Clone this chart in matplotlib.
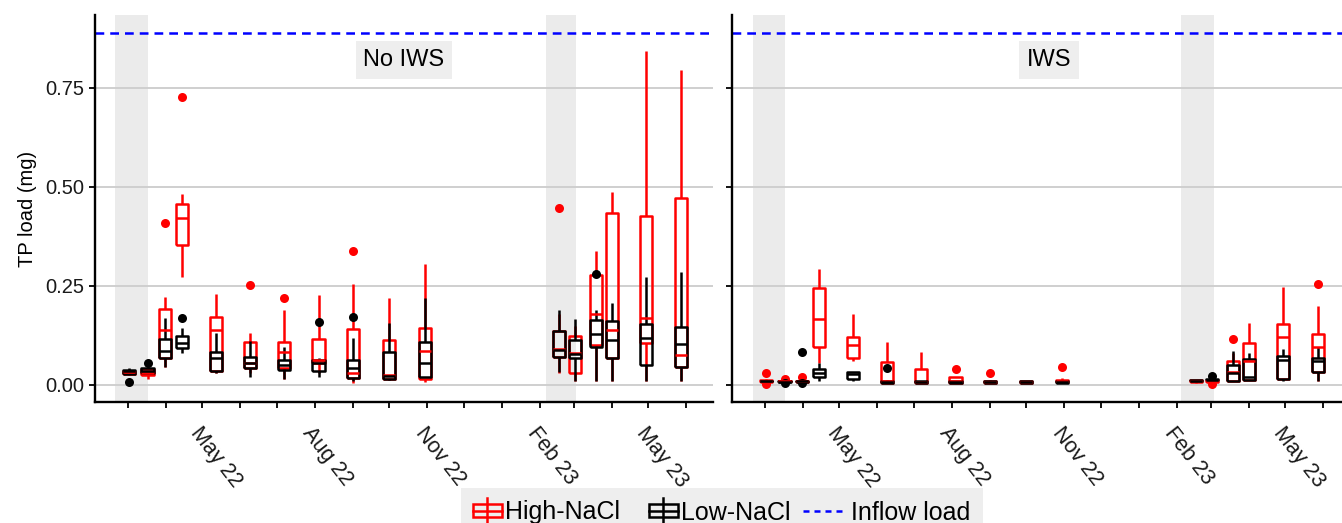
import matplotlib
matplotlib.use("Agg")
import matplotlib.pyplot as plt
import matplotlib.dates as mdates
from matplotlib.legend_handler import HandlerBase
from matplotlib.patches import Rectangle, Patch
from matplotlib.lines import Line2D
import pandas as pd

plt.rcParams['font.family'] = ['Liberation Sans', 'DejaVu Sans']

# sampling dates (shared by both panels)
dates = ["2022-03-02", "2022-03-17", "2022-03-31", "2022-04-14", "2022-05-12", "2022-06-09",
         "2022-07-07", "2022-08-04", "2022-09-01", "2022-10-01", "2022-10-30",
         "2023-02-17", "2023-03-02", "2023-03-19", "2023-04-01", "2023-04-29", "2023-05-28"]

# box stats: (whisker low, q1, median, q3, whisker high, outliers)
noiws_high = [
    (0.025, 0.028, 0.032, 0.036, 0.040, []),
    (0.014, 0.025, 0.030, 0.040, 0.042, []),
    (0.045, 0.067, 0.139, 0.191, 0.223, [0.409]),
    (0.272, 0.353, 0.422, 0.457, 0.482, [0.726]),
    (0.029, 0.036, 0.139, 0.172, 0.230, []),
    (0.030, 0.042, 0.055, 0.109, 0.130, [0.252]),
    (0.014, 0.042, 0.084, 0.109, 0.188, [0.219]),
    (0.030, 0.056, 0.063, 0.116, 0.227, []),
    (0.004, 0.017, 0.031, 0.141, 0.255, [0.338]),
    (0.013, 0.016, 0.024, 0.114, 0.219, []),
    (0.008, 0.014, 0.086, 0.145, 0.305, []),
    (0.030, 0.070, 0.090, 0.136, 0.180, [0.448]),
    (0.010, 0.029, 0.080, 0.124, 0.150, []),
    (0.010, 0.101, 0.180, 0.278, 0.339, []),
    (0.010, 0.067, 0.139, 0.433, 0.487, []),
    (0.010, 0.105, 0.168, 0.427, 0.844, []),
    (0.010, 0.046, 0.076, 0.473, 0.794, []),
]
noiws_low = [
    (0.028, 0.028, 0.034, 0.038, 0.042, [0.008]),
    (0.030, 0.030, 0.035, 0.042, 0.045, [0.055]),
    (0.045, 0.067, 0.087, 0.115, 0.168, []),
    (0.080, 0.093, 0.105, 0.124, 0.143, [0.170]),
    (0.030, 0.036, 0.067, 0.084, 0.132, []),
    (0.021, 0.042, 0.056, 0.071, 0.112, []),
    (0.014, 0.038, 0.050, 0.063, 0.097, []),
    (0.021, 0.035, 0.056, 0.063, 0.068, [0.160]),
    (0.010, 0.018, 0.042, 0.063, 0.118, [0.172]),
    (0.013, 0.016, 0.022, 0.084, 0.157, []),
    (0.021, 0.021, 0.056, 0.109, 0.220, []),
    (0.032, 0.070, 0.088, 0.136, 0.188, []),
    (0.010, 0.069, 0.078, 0.114, 0.166, []),
    (0.010, 0.097, 0.128, 0.164, 0.189, [0.280]),
    (0.009, 0.067, 0.114, 0.162, 0.206, []),
    (0.010, 0.050, 0.118, 0.154, 0.272, []),
    (0.010, 0.046, 0.103, 0.146, 0.286, []),
]
iws_high = [
    (0.006, 0.008, 0.010, 0.012, 0.015, [0.031, 0.002]),
    (0.008, 0.009, 0.010, 0.011, 0.012, [0.014]),
    (0.006, 0.008, 0.009, 0.011, 0.012, [0.021]),
    (0.055, 0.097, 0.166, 0.245, 0.293, []),
    (0.060, 0.067, 0.100, 0.122, 0.180, []),
    (0.004, 0.005, 0.010, 0.059, 0.109, []),
    (0.005, 0.005, 0.008, 0.040, 0.083, []),
    (0.005, 0.005, 0.010, 0.021, 0.021, [0.040]),
    (0.004, 0.005, 0.007, 0.010, 0.012, [0.030]),
    (0.004, 0.005, 0.007, 0.009, 0.010, []),
    (0.006, 0.008, 0.010, 0.013, 0.017, [0.046]),
    (0.006, 0.008, 0.010, 0.012, 0.013, []),
    (0.006, 0.008, 0.010, 0.012, 0.013, [0.003]),
    (0.010, 0.010, 0.032, 0.060, 0.080, [0.115]),
    (0.012, 0.012, 0.060, 0.107, 0.157, []),
    (0.015, 0.015, 0.120, 0.154, 0.248, []),
    (0.010, 0.032, 0.097, 0.128, 0.200, [0.255]),
]
iws_low = [
    (0.008, 0.009, 0.010, 0.011, 0.012, []),
    (0.006, 0.007, 0.008, 0.009, 0.010, [0.004]),
    (0.007, 0.008, 0.009, 0.011, 0.012, [0.083, 0.004]),
    (0.009, 0.021, 0.030, 0.040, 0.055, []),
    (0.009, 0.014, 0.027, 0.032, 0.032, []),
    (0.004, 0.005, 0.007, 0.010, 0.012, [0.044]),
    (0.004, 0.005, 0.007, 0.009, 0.010, []),
    (0.004, 0.005, 0.007, 0.009, 0.010, []),
    (0.004, 0.005, 0.007, 0.009, 0.010, []),
    (0.004, 0.005, 0.007, 0.009, 0.010, []),
    (0.004, 0.005, 0.007, 0.009, 0.010, []),
    (0.008, 0.009, 0.011, 0.012, 0.013, []),
    (0.010, 0.012, 0.013, 0.015, 0.016, [0.022]),
    (0.010, 0.010, 0.030, 0.050, 0.085, []),
    (0.012, 0.012, 0.019, 0.065, 0.081, []),
    (0.010, 0.015, 0.063, 0.073, 0.092, []),
    (0.010, 0.032, 0.061, 0.068, 0.097, []),
]

inflow_load = 0.889
shade_noiws = [("2022-02-18", "2022-03-17"), ("2023-02-06", "2023-03-03")]
shade_iws = [("2022-02-19", "2022-03-17"), ("2023-02-05", "2023-03-04")]
panel_titles = ["No IWS", "IWS"]

RED = "#FF0000"
BLUE = "#0000FF"
GRID = "#CCCCCC"
SHADE = "#EBEBEB"
LW = 1.8
pos = mdates.date2num(pd.to_datetime(dates))


def draw_group(ax, stats, color):
    st = [dict(whislo=s[0], q1=s[1], med=s[2], q3=s[3], whishi=s[4], fliers=s[5]) for s in stats]
    lp = dict(color=color, lw=LW, solid_capstyle='butt')
    ax.bxp(st, positions=pos, widths=10, showcaps=False, manage_ticks=False,
           boxprops=lp, whiskerprops=lp, medianprops=lp,
           flierprops=dict(marker='o', markerfacecolor=color, markeredgecolor='none', markersize=6.5))


def month_fmt(x, p):
    d = mdates.num2date(x)
    return d.strftime("%b %y") if d.month in (2, 5, 8, 11) else ""


class BoxHandler(HandlerBase):
    # small boxplot glyph, right-aligned in the key
    def create_artists(self, legend, orig, xd, yd, w, h, fs, trans):
        c = orig.get_edgecolor()
        bw = 21
        cx = xd + w - bw / 2 - 1
        box = Rectangle((cx - bw / 2, yd + h * 0.12), bw, h * 0.76, fill=False, ec=c, lw=LW, transform=trans)
        med = Line2D([cx - bw / 2, cx + bw / 2], [yd + h / 2] * 2, color=c, lw=LW, transform=trans)
        wl = Line2D([cx, cx], [yd - h * 0.25, yd + h * 1.25], color=c, lw=LW, transform=trans)
        return [wl, box, med]


class DashHandler(HandlerBase):
    # dashed key, a bit longer than the box keys
    def create_artists(self, legend, orig, xd, yd, w, h, fs, trans):
        ln = Line2D([xd - 12, xd + w - 2], [yd + h / 2] * 2, color=BLUE, lw=LW,
                    ls=(0, (2.4, 2.0)), transform=trans)
        return [ln]


fig = plt.figure(figsize=(13.42, 5.23), dpi=100)
x0s = [95 / 1342, 732 / 1342]
axw = 618 / 1342
data = [(noiws_high, noiws_low, shade_noiws), (iws_high, iws_low, shade_iws)]
xlim = mdates.date2num(pd.to_datetime(["2022-02-02", "2023-06-23"]))

for i, (hi, lo, shades) in enumerate(data):
    ax = fig.add_axes([x0s[i], 1 - 402 / 523, axw, 387 / 523])
    for a, b in shades:
        ax.axvspan(mdates.date2num(pd.Timestamp(a)), mdates.date2num(pd.Timestamp(b)),
                   color=SHADE, lw=0, zorder=0)
    for yv in [0, 0.25, 0.5, 0.75]:
        ax.axhline(yv, color=GRID, lw=1.3, zorder=0.5)
    ax.axhline(inflow_load, color=BLUE, lw=1.8, ls=(0, (3.5, 2.4)), zorder=1)
    draw_group(ax, hi, RED)
    draw_group(ax, lo, "black")
    ax.set_xlim(xlim)
    ax.set_ylim(-0.043, 0.934)
    ax.set_yticks([0, 0.25, 0.5, 0.75])
    if i == 0:
        ax.set_yticklabels(["0.00", "0.25", "0.50", "0.75"])
        ax.set_ylabel("TP load (mg)", fontsize=14.5, labelpad=6)
    else:
        ax.set_yticklabels([])
    ax.xaxis.set_major_locator(mdates.MonthLocator())
    ax.xaxis.set_major_formatter(plt.FuncFormatter(month_fmt))
    ax.tick_params(axis='both', length=4, width=1.3, color='black', labelsize=14.5, labelcolor='#1a1a1a')
    ax.tick_params(axis='x', pad=11, labelsize=15.5)
    for lab in ax.get_xticklabels():
        lab.set_rotation(-52)
        lab.set_ha('left')
        lab.set_va('top')
        lab.set_rotation_mode('anchor')
    for s in ['top', 'right']:
        ax.spines[s].set_visible(False)
    for s in ['left', 'bottom']:
        ax.spines[s].set_linewidth(1.7)
    ax.text(0.5 + (0.0 if i == 0 else 0.013), 0.82, panel_titles[i], transform=ax.get_yaxis_transform(),
            ha='center', va='center', fontsize=17,
            bbox=dict(boxstyle='square,pad=0.33', facecolor='#EEEEEE', edgecolor='none'))

handles = [Patch(facecolor='none', edgecolor=RED), Patch(facecolor='none', edgecolor='black'),
           Line2D([], [], color=BLUE)]
fig.legend(handles, ["High-NaCl", "Low-NaCl", "Inflow load"], loc='upper center',
           bbox_to_anchor=(722 / 1342, 1 - 488 / 523), ncol=3, frameon=True, fancybox=False,
           facecolor='#EEEEEE', edgecolor='none', framealpha=1, fontsize=18,
           handlelength=1.2, handletextpad=0.08, columnspacing=1.15, borderpad=0.5,
           borderaxespad=0, handler_map={Patch: BoxHandler(), Line2D: DashHandler()})

fig.savefig("out.png", dpi=100)
